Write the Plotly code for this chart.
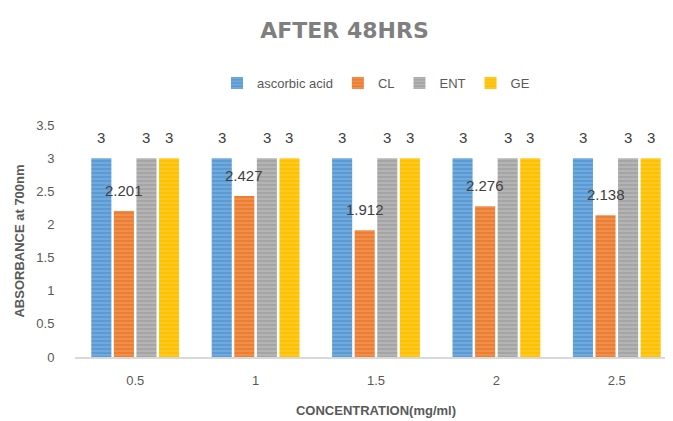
import plotly.graph_objects as go

categories = ["0.5", "1", "1.5", "2", "2.5"]
ascorbic = [3, 3, 3, 3, 3]
cl = [2.201, 2.427, 1.912, 2.276, 2.138]
ent = [3, 3, 3, 3, 3]
ge = [3, 3, 3, 3, 3]

series = [
    ("ascorbic acid", ascorbic, "#5B9BD5", "#9DC3E6"),
    ("CL", cl, "#ED7D31", "#F4B183"),
    ("ENT", ent, "#A5A5A5", "#D0D0D0"),
    ("GE", ge, "#FFC000", "#FFD966"),
]

FONT = "Liberation Sans Narrow, Liberation Sans, Arial"
fig = go.Figure()
n = len(series)
slot = 0.75 / n  # category-units per bar slot (bargap 0.25)
for i, (name, vals, col, light) in enumerate(series):
    fig.add_trace(go.Bar(
        name=name, x=categories, y=vals,
        marker=dict(color=col, line=dict(width=0),
                    pattern=dict(shape="-", fgcolor=light, size=4, solidity=0.35)),
    ))
    off = (i - (n - 1) / 2) * slot
    for j, v in enumerate(vals):
        fig.add_annotation(x=j + off, y=v, text=f"{v:g}", showarrow=False,
                           yanchor="bottom", yshift=10,
                           font=dict(size=15, color="#404040", family=FONT))

fig.update_layout(
    width=673, height=421,
    margin=dict(l=67, r=4, t=117, b=72, autoexpand=False),
    paper_bgcolor="white", plot_bgcolor="white",
    barmode="group", bargap=0.25, bargroupgap=0.11,
    font=dict(family=FONT, color="#595959"),
    title=dict(text="<b>AFTER 48HRS</b>", x=0.5, xanchor="center", y=0.948, yanchor="middle",
               font=dict(size=22, color="#7F7F7F", family="DejaVu Sans")),
    legend=dict(orientation="h", x=0.5, xanchor="center", y=1.181, yanchor="middle",
                font=dict(size=13, color="#595959"), itemwidth=30, traceorder="normal"),
    xaxis=dict(showline=True, linecolor="#D9D9D9", linewidth=2, ticks="outside",
               ticklen=10, tickcolor="rgba(0,0,0,0)",
               tickfont=dict(size=13, color="#595959"),
               title=dict(text="<b>CONCENTRATION(mg/ml)</b>", font=dict(size=13, color="#595959"), standoff=19)),
    yaxis=dict(range=[0, 3.5], dtick=0.5, showgrid=False, zeroline=False, showline=False,
               ticks="outside", ticklen=17, tickcolor="rgba(0,0,0,0)",
               tickfont=dict(size=13, color="#595959"),
               title=dict(text="<b>ABSORBANCE at 700nm</b>", font=dict(size=13, color="#595959"), standoff=8)),
)
fig.write_html("out.html")
